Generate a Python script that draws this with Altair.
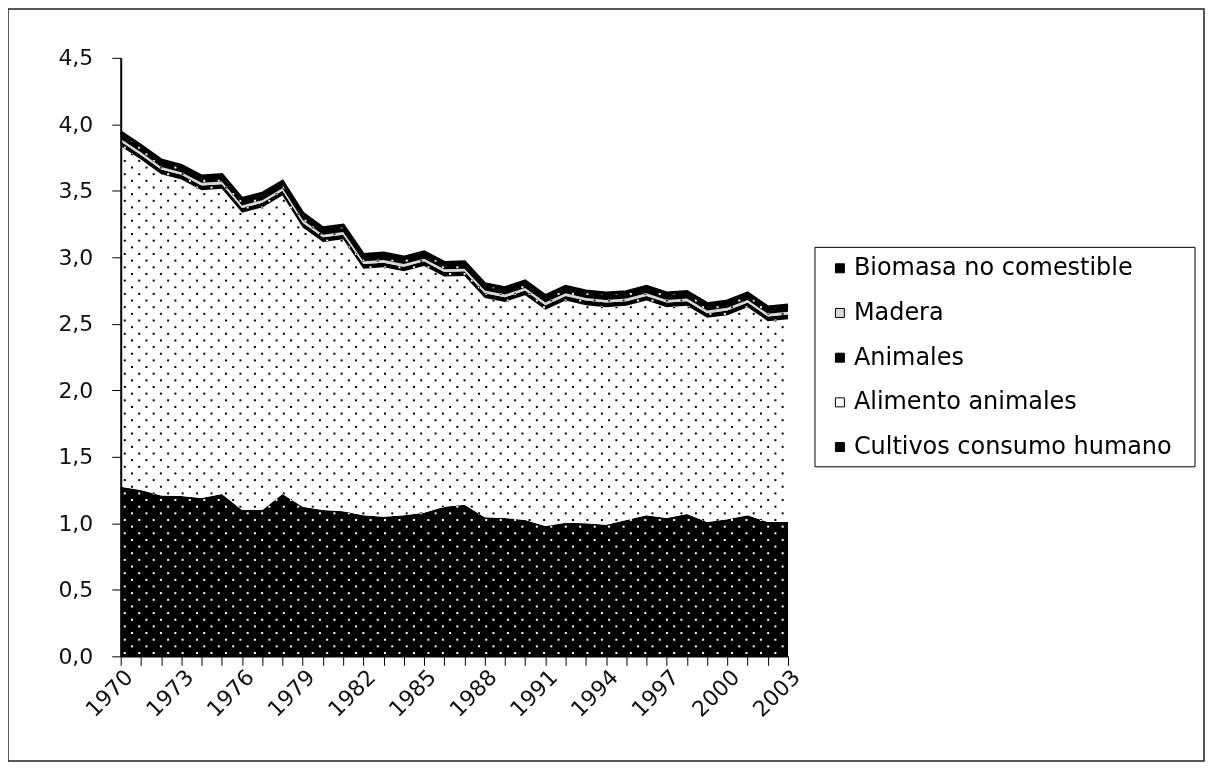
import altair as alt
import pandas as pd

years = list(range(1970, 2004))

cultivos = [1.275, 1.25, 1.21, 1.205, 1.19, 1.22, 1.10, 1.10, 1.22, 1.125,
            1.10, 1.09, 1.06, 1.05, 1.06, 1.08, 1.125, 1.14, 1.045, 1.04,
            1.025, 0.98, 1.005, 1.00, 0.99, 1.025, 1.06, 1.04, 1.07, 1.01,
            1.03, 1.06, 1.01, 1.01]
alimento = [2.56, 2.485, 2.415, 2.38, 2.315, 2.295, 2.235, 2.275, 2.245, 2.10,
            2.015, 2.045, 1.855, 1.875, 1.835, 1.855, 1.73, 1.72, 1.65, 1.625,
            1.69, 1.625, 1.67, 1.64, 1.635, 1.61, 1.615, 1.585, 1.565, 1.535,
            1.535, 1.565, 1.51, 1.525]
animales = [0.035, 0.035, 0.035, 0.035, 0.035, 0.035, 0.035, 0.035, 0.035, 0.035,
            0.035, 0.035, 0.035, 0.035, 0.035, 0.035, 0.035, 0.035, 0.035, 0.035,
            0.035, 0.035, 0.035, 0.035, 0.035, 0.035, 0.035, 0.035, 0.035, 0.035,
            0.035, 0.035, 0.035, 0.035]
madera = [0.02, 0.02, 0.02, 0.02, 0.02, 0.02, 0.02, 0.02, 0.02, 0.02,
          0.02, 0.02, 0.02, 0.02, 0.02, 0.02, 0.02, 0.02, 0.02, 0.02,
          0.02, 0.02, 0.02, 0.02, 0.02, 0.02, 0.02, 0.02, 0.02, 0.02,
          0.02, 0.02, 0.02, 0.02]
biomasa = [0.05, 0.05, 0.05, 0.05, 0.05, 0.05, 0.05, 0.05, 0.05, 0.05,
           0.05, 0.05, 0.05, 0.05, 0.05, 0.05, 0.05, 0.05, 0.05, 0.05,
           0.05, 0.05, 0.05, 0.05, 0.05, 0.05, 0.05, 0.05, 0.05, 0.05,
           0.05, 0.05, 0.05, 0.05]

series_names = ["Cultivos consumo humano", "Alimento animales", "Animales",
                "Madera", "Biomasa no comestible"]
series_values = [cultivos, alimento, animales, madera, biomasa]
legend_order = ["Biomasa no comestible", "Madera", "Animales",
                "Alimento animales", "Cultivos consumo humano"]
y_ticks = [0, 0.5, 1.0, 1.5, 2.0, 2.5, 3.0, 3.5, 4.0, 4.5]

rows = []
for k, (name, vals) in enumerate(zip(series_names, series_values)):
    for yr, v in zip(years, vals):
        rows.append({"year": yr, "serie": name, "value": v, "ord": k})
df = pd.DataFrame(rows)

FONT = "DejaVu Sans"
xs = alt.Scale(domain=[1970, 2003], nice=False, zero=False)
ys = alt.Scale(domain=[0, 4.5], nice=False, zero=True)

xaxis = alt.Axis(values=years, format="d",
                 labelExpr="(datum.value - 1970) % 3 === 0 ? datum.label : ''",
                 labelAngle=-45, labelAlign="right", labelBaseline="middle",
                 labelPadding=8, labelOffset=8, labelOverlap=False, labelBound=False,
                 labelFont=FONT, labelFontSize=22, labelColor="#111",
                 tickSize=9, tickColor="black", tickWidth=1,
                 domainColor="black", domainWidth=1.5, grid=False, zindex=1)
yaxis = alt.Axis(values=y_ticks,
                 labelExpr="replace(format(datum.value, '.1f'), '.', ',')",
                 labelFont=FONT, labelFontSize=22, labelColor="#111",
                 labelPadding=19, tickSize=9, tickColor="black", tickWidth=1,
                 domainColor="black", domainWidth=2, grid=False, zindex=1)

one = pd.DataFrame({"k": [0]})

frame = alt.Chart(one).mark_rect(fill="white", fillOpacity=0, stroke="#222",
                                 strokeWidth=1.5).encode(
    x=alt.value(-113), x2=alt.value(1086), y=alt.value(-49), y2=alt.value(705))

areas = alt.Chart(df).mark_area(interpolate="linear", strokeWidth=0, opacity=1).encode(
    x=alt.X("year:Q", scale=xs, axis=xaxis, title=None),
    y=alt.Y("value:Q", stack="zero", scale=ys, axis=yaxis, title=None),
    color=alt.Color("serie:N",
                    scale=alt.Scale(domain=legend_order,
                                    range=["#000000", "#d8d8d8", "#000000", "#ffffff", "#000000"]),
                    legend=alt.Legend(orient="none", legendX=709, legendY=199, title=None,
                                      labelFont=FONT, labelFontSize=24, labelColor="black",
                                      labelLimit=0,
                                      symbolType="square", symbolSize=81,
                                      symbolStrokeColor="black", symbolStrokeWidth=1,
                                      symbolOpacity=1, rowPadding=20.8, padding=0,
                                      labelOffset=2, zindex=2)),
    order=alt.Order("ord:Q", sort="ascending"),
)

NC = 48
NR = 82
dots = alt.Chart(alt.sequence(0, NC * NR, as_="i")).transform_calculate(
    r=f"floor(datum.i / {NC})", c=f"datum.i % {NC}"
).transform_calculate(
    dx="1970.2 + (datum.c + (datum.r % 2) * 0.5) * 0.715",
    dy="0.025 + datum.r * 0.05"
).transform_filter("datum.dx <= 2002.95").mark_square(
    size=4, color="white", opacity=1, strokeWidth=0, blend="difference"
).encode(
    x=alt.X("dx:Q", scale=xs, axis=xaxis, title=None),
    y=alt.Y("dy:Q", scale=ys, axis=yaxis, title=None),
)

cover = alt.Chart(df).transform_aggregate(
    top="sum(value)", groupby=["year"]
).mark_area(color="white", opacity=1).encode(
    x=alt.X("year:Q", scale=xs, axis=xaxis, title=None),
    y=alt.Y("top:Q", scale=ys, axis=yaxis, title=None),
    y2=alt.datum(4.5),
)

topline = alt.Chart(df).transform_aggregate(
    top="sum(value)", groupby=["year"]
).mark_line(color="black", strokeWidth=3.5).encode(
    x=alt.X("year:Q", scale=xs, axis=xaxis, title=None),
    y=alt.Y("top:Q", scale=ys, axis=yaxis, title=None),
)

legend_box = alt.Chart(one).mark_rect(fill="white", stroke="black", strokeWidth=1).encode(
    x=alt.value(696), x2=alt.value(1077), y=alt.value(190), y2=alt.value(410))

chart = alt.layer(frame, areas, dots, cover, topline, legend_box).properties(
    width=669, height=600,
    autosize=alt.AutoSizeParams(type="none"),
    padding={"left": 113, "top": 49, "right": 418, "bottom": 106},
    background="white",
).configure_view(stroke=None).configure_axis(labelOverlap=False)

chart.save("out.html", embed_options={"renderer": "svg", "actions": False})
